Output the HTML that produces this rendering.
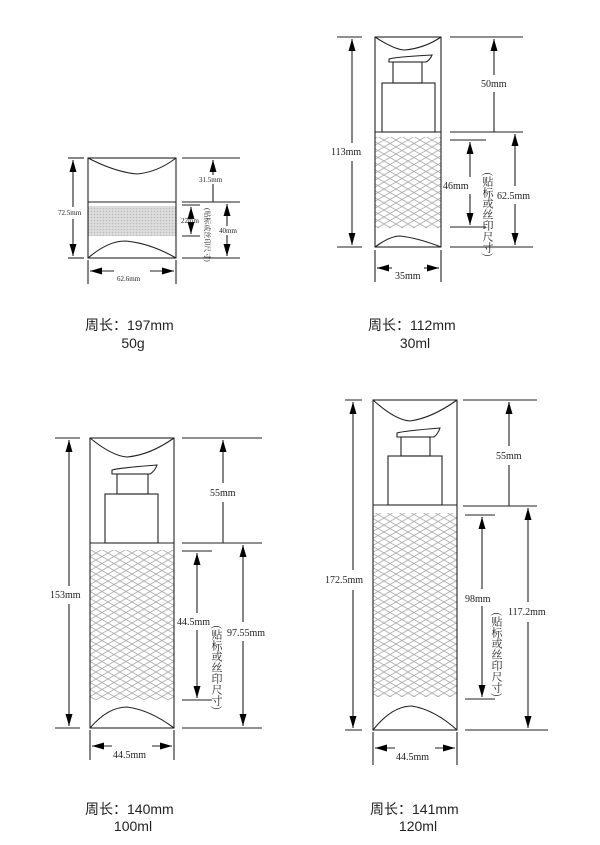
<!DOCTYPE html>
<html><head><meta charset="utf-8">
<style>
html,body{margin:0;padding:0;background:#fff;}
svg{display:block;}
.d{font-family:"Liberation Serif","Noto Serif CJK SC",serif;font-size:10px;fill:#222;}
.s{font-family:"Liberation Serif","Noto Serif CJK SC",serif;font-size:7px;fill:#222;}
.c{font-family:"Liberation Sans","Noto Sans CJK SC",sans-serif;font-size:14px;fill:#222;}
.v{font-family:"Noto Serif CJK SC","Noto Sans CJK SC",serif;font-size:11px;fill:#222;}
</style></head><body>
<svg width="600" height="845" viewBox="0 0 600 845" xmlns="http://www.w3.org/2000/svg">
<defs>
<marker id="a" viewBox="0 0 12 7" refX="12" refY="3.5" markerWidth="12" markerHeight="7" orient="auto-start-reverse" markerUnits="userSpaceOnUse"><path d="M0,0 L12,3.5 L0,7 z" fill="#000"/></marker>
<pattern id="dm" width="12" height="7" patternUnits="userSpaceOnUse">
<path d="M0,0 L12,7 M12,0 L0,7" stroke="#aaa" stroke-width="0.8" fill="none"/>
</pattern>
<pattern id="dt" width="3" height="3" patternUnits="userSpaceOnUse">
<rect width="3" height="3" fill="#ddd"/><circle cx="1.5" cy="1.5" r="0.8" fill="#bbb"/>
</pattern>
</defs>
<g stroke="#222" fill="none" stroke-width="1.1">
<!-- Box1 -->
<rect x="88" y="206" width="88" height="30" fill="url(#dt)" stroke="none"/>
<rect x="88" y="158" width="88" height="100"/>
<line x1="88" y1="202" x2="176" y2="202"/>
<path d="M88,158 Q115,172 137,174 Q158,172 176,158"/>
<path d="M88,258 Q108,241 125,241 Q150,243 176,258"/>
<line x1="68" y1="158" x2="84" y2="158"/><line x1="68" y1="258" x2="84" y2="258"/>
<line x1="73" y1="160" x2="73" y2="207" marker-start="url(#a)"/><line x1="73" y1="219" x2="73" y2="256" marker-end="url(#a)"/>
<line x1="182" y1="158" x2="240" y2="158"/><line x1="182" y1="202" x2="240" y2="202"/><line x1="182" y1="258" x2="240" y2="258"/>
<line x1="213" y1="160" x2="213" y2="175" marker-start="url(#a)"/><line x1="213" y1="184" x2="213" y2="202"/>
<line x1="227" y1="204" x2="227" y2="226" marker-start="url(#a)"/><line x1="227" y1="235" x2="227" y2="256" marker-end="url(#a)"/>
<line x1="182" y1="205" x2="200" y2="205"/><line x1="182" y1="236" x2="200" y2="236"/>
<line x1="191" y1="207" x2="191" y2="216" marker-start="url(#a)"/><line x1="191" y1="224" x2="191" y2="234" marker-end="url(#a)"/>
<line x1="88" y1="260" x2="88" y2="284"/><line x1="176" y1="260" x2="176" y2="284"/>
<line x1="90" y1="271" x2="114" y2="271" marker-start="url(#a)"/><line x1="150" y1="271" x2="174" y2="271" marker-end="url(#a)"/>

<!-- Box2 -->
<rect x="375" y="137" width="66" height="91" fill="url(#dm)" stroke="none"/>
<rect x="375" y="37" width="66" height="210"/>
<line x1="375" y1="132" x2="441" y2="132"/>
<path d="M375,37 Q395,50 405,50 Q425,48 441,37"/>
<path d="M375,247 Q390,236 400,236 Q418,238 441,247"/>
<path d="M389,62 L389,59 Q395,57 432,55 Q430,60 426,62 Z"/>
<rect x="393" y="62" width="29" height="21"/>
<rect x="382" y="83" width="53" height="49"/>
<line x1="337" y1="37" x2="362" y2="37"/><line x1="337" y1="247" x2="362" y2="247"/>
<line x1="352" y1="39" x2="352" y2="143" marker-start="url(#a)"/><line x1="352" y1="161" x2="352" y2="245" marker-end="url(#a)"/>
<line x1="450" y1="37" x2="523" y2="37"/><line x1="450" y1="132" x2="523" y2="132"/><line x1="450" y1="247" x2="533" y2="247"/>
<line x1="494" y1="39" x2="494" y2="75" marker-start="url(#a)"/><line x1="494" y1="92" x2="494" y2="132"/>
<line x1="515" y1="134" x2="515" y2="186" marker-start="url(#a)"/><line x1="515" y1="204" x2="515" y2="245" marker-end="url(#a)"/>
<line x1="450" y1="140" x2="486" y2="140"/><line x1="450" y1="227" x2="486" y2="227"/>
<line x1="470" y1="142" x2="470" y2="177" marker-start="url(#a)"/><line x1="470" y1="194" x2="470" y2="225" marker-end="url(#a)"/>
<line x1="375" y1="250" x2="375" y2="282"/><line x1="441" y1="250" x2="441" y2="282"/>
<line x1="377" y1="268" x2="392" y2="268" marker-start="url(#a)"/><line x1="424" y1="268" x2="439" y2="268" marker-end="url(#a)"/>

<!-- Box3 -->
<rect x="90" y="550" width="84" height="150" fill="url(#dm)" stroke="none"/>
<rect x="90" y="438" width="84" height="290"/>
<line x1="90" y1="543" x2="174" y2="543"/>
<path d="M90,438 Q112,456 127,457 Q150,455 174,438"/>
<path d="M90,728 Q108,707 127,707 Q150,710 174,728"/>
<path d="M112,474 L112,470 Q118,468 157,465 Q155,471 150,474 Z"/>
<rect x="117" y="474" width="31" height="20"/>
<rect x="105" y="494" width="53" height="49"/>
<line x1="55" y1="438" x2="80" y2="438"/><line x1="55" y1="728" x2="80" y2="728"/>
<line x1="69" y1="440" x2="69" y2="586" marker-start="url(#a)"/><line x1="69" y1="604" x2="69" y2="726" marker-end="url(#a)"/>
<line x1="182" y1="438" x2="262" y2="438"/><line x1="182" y1="543" x2="262" y2="543"/><line x1="182" y1="728" x2="262" y2="728"/>
<line x1="223" y1="440" x2="223" y2="483" marker-start="url(#a)"/><line x1="223" y1="502" x2="223" y2="543"/>
<line x1="243" y1="545" x2="243" y2="622" marker-start="url(#a)"/><line x1="243" y1="641" x2="243" y2="726" marker-end="url(#a)"/>
<line x1="182" y1="551" x2="212" y2="551"/><line x1="182" y1="700" x2="212" y2="700"/>
<line x1="197" y1="553" x2="197" y2="613" marker-start="url(#a)"/><line x1="197" y1="630" x2="197" y2="698" marker-end="url(#a)"/>
<line x1="90" y1="730" x2="90" y2="760"/><line x1="174" y1="730" x2="174" y2="760"/>
<line x1="92" y1="746" x2="112" y2="746" marker-start="url(#a)"/><line x1="152" y1="746" x2="172" y2="746" marker-end="url(#a)"/>

<!-- Box4 -->
<rect x="373" y="513" width="84" height="184" fill="url(#dm)" stroke="none"/>
<rect x="373" y="400" width="84" height="330"/>
<line x1="373" y1="505" x2="457" y2="505"/>
<path d="M373,400 Q395,420 410,421 Q432,418 457,400"/>
<path d="M373,730 Q392,706 412,706 Q435,710 457,730"/>
<path d="M397,437 L397,433 Q403,431 440,428 Q438,434 434,437 Z"/>
<rect x="401" y="437" width="29" height="19"/>
<rect x="388" y="456" width="54" height="49"/>
<line x1="345" y1="400" x2="362" y2="400"/><line x1="345" y1="730" x2="362" y2="730"/>
<line x1="353" y1="402" x2="353" y2="570" marker-start="url(#a)"/><line x1="353" y1="590" x2="353" y2="728" marker-end="url(#a)"/>
<line x1="463" y1="400" x2="537" y2="400"/><line x1="463" y1="506" x2="537" y2="506"/><line x1="465" y1="730" x2="548" y2="730"/>
<line x1="509" y1="402" x2="509" y2="446" marker-start="url(#a)"/><line x1="509" y1="465" x2="509" y2="506"/>
<line x1="528" y1="508" x2="528" y2="602" marker-start="url(#a)"/><line x1="528" y1="622" x2="528" y2="728" marker-end="url(#a)"/>
<line x1="465" y1="515" x2="495" y2="515"/><line x1="465" y1="699" x2="495" y2="699"/>
<line x1="482" y1="517" x2="482" y2="589" marker-start="url(#a)"/><line x1="482" y1="606" x2="482" y2="697" marker-end="url(#a)"/>
<line x1="373" y1="732" x2="373" y2="765"/><line x1="457" y1="732" x2="457" y2="765"/>
<line x1="375" y1="748" x2="395" y2="748" marker-start="url(#a)"/><line x1="435" y1="748" x2="455" y2="748" marker-end="url(#a)"/>
</g>

<!-- dimension text -->
<text class="s" x="58" y="215">72.5mm</text>
<text class="s" x="199" y="182">31.5mm</text>
<text class="s" x="181" y="223">22mm</text>
<text class="s" x="219" y="233">40mm</text>
<text class="s" x="117" y="281">62.6mm</text>
<text class="s" x="205" y="208" transform="rotate(90 205 208)">(贴标或丝印尺寸)</text>

<text class="d" x="331" y="155">113mm</text>
<text class="d" x="481" y="87">50mm</text>
<text class="d" x="443" y="189">46mm</text>
<text class="d" x="497" y="199">62.5mm</text>
<text class="d" x="395" y="279">35mm</text>
<text class="v" x="488" y="172" style="writing-mode:vertical-rl">(贴标或丝印尺寸)</text>

<text class="d" x="50" y="598">153mm</text>
<text class="d" x="210" y="496">55mm</text>
<text class="d" x="177" y="625">44.5mm</text>
<text class="d" x="227" y="636">97.55mm</text>
<text class="d" x="113" y="758">44.5mm</text>
<text class="v" x="217" y="625" style="writing-mode:vertical-rl">(贴标或丝印尺寸)</text>

<text class="d" x="325" y="583">172.5mm</text>
<text class="d" x="496" y="459">55mm</text>
<text class="d" x="465" y="602">98mm</text>
<text class="d" x="508" y="615">117.2mm</text>
<text class="d" x="396" y="760">44.5mm</text>
<text class="v" x="497" y="612" style="writing-mode:vertical-rl">(贴标或丝印尺寸)</text>

<!-- captions -->
<text class="c" x="85" y="330">周长：197mm</text>
<text class="c" x="133" y="348" text-anchor="middle">50g</text>
<text class="c" x="368" y="330">周长：112mm</text>
<text class="c" x="415" y="348" text-anchor="middle">30ml</text>
<text class="c" x="85" y="814">周长：140mm</text>
<text class="c" x="133" y="831" text-anchor="middle">100ml</text>
<text class="c" x="370" y="814">周长：141mm</text>
<text class="c" x="418" y="831" text-anchor="middle">120ml</text>
</svg>
</body></html>
